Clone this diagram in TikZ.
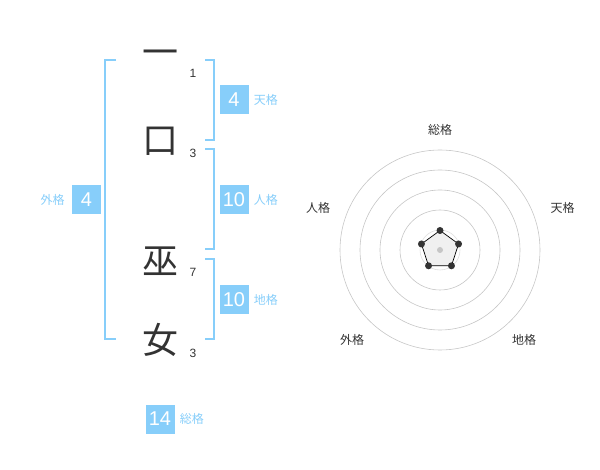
\documentclass[tikz,border=0pt]{standalone}
\usepackage{fontspec}
\setmainfont{Liberation Sans}
\newfontfamily\jpfont{Noto Sans CJK JP}
\usetikzlibrary{positioning}
\definecolor{seiblue}{RGB}{135,206,250}
\definecolor{inkgray}{RGB}{51,51,51}

\begin{document}
\begin{tikzpicture}[x=1pt, y=-1pt,
      node distance = 5pt,
      kanji/.style   = {font=\jpfont\fontsize{36}{36}\selectfont, text=inkgray, inner sep=0pt},
      strokes/.style = {font=\fontsize{12}{12}\selectfont, text=inkgray, inner sep=0pt},
      numbox/.style  = {fill=seiblue, text=white, minimum size=29pt, inner sep=0pt,
                        font=\fontsize{20}{20}\selectfont},
      kaku/.style    = {font=\jpfont\fontsize{12}{12}\selectfont, text=seiblue, inner sep=0pt},
      brk/.style     = {draw=seiblue, line width=2pt},
      ring/.style    = {draw=gray!45, line width=0.6pt},
      axis/.style    = {font=\jpfont\fontsize{12}{12}\selectfont, text=inkgray, inner sep=0pt},
      dot/.style     = {circle, fill=inkgray, inner sep=0pt, minimum size=7pt}]
    \useasboundingbox (0,0) rectangle (600,470);
    % name: characters and stroke counts
    \node[kanji] (c1) at (160,58)  {一};
    \node[kanji] (c2) at (160,141) {口};
    \node[kanji] (c3) at (160,261) {巫};
    \node[kanji] (c4) at (160,340) {女};
    \node[strokes] (s1) at (193,73)  {1};
    \node[strokes] (s2) at (193,153) {3};
    \node[strokes] (s3) at (193,272) {7};
    \node[strokes] (s4) at (193,353) {3};
    % brackets
    \draw[brk] (116,60) -- (105,60) -- (105,339) -- (116,339);
    \draw[brk] (205,60) -- (214,60) -- (214,140) -- (205,140);
    \draw[brk] (205,149) -- (214,149) -- (214,249) -- (205,249);
    \draw[brk] (205,259) -- (214,259) -- (214,339) -- (205,339);
    % scores
    \node[numbox] (ten)  at (234,100) {4};
    \node[numbox] (jin)  at (234,200) {10};
    \node[numbox] (chi)  at (234,300) {10};
    \node[numbox] (gai)  at (86.5,200) {4};
    \node[numbox] (sou)  at (160,419) {14};
    \node[kaku, right=of ten] (tenl) {天格};
    \node[kaku, right=of jin] (jinl) {人格};
    \node[kaku, right=of chi] (chil) {地格};
    \node[kaku, left=7pt of gai] (gail) {外格};
    \node[kaku, right=of sou] (soul) {総格};
    % radar chart
    \begin{scope}[shift={(440,250)}, y=1pt]
      \draw[gray!25, line width=0.6pt] (0,0) circle (20);
      \foreach \r in {40,60,80,100}
        \draw[ring] (0,0) circle (\r);
      \node[axis] (a1) at (0,120)    {総格};
      \node[axis] (a2) at (122.5,42) {天格};
      \node[axis] (a3) at (84,-90)   {地格};
      \node[axis] (a4) at (-88,-90)  {外格};
      \node[axis] (a5) at (-122,42)  {人格};
      \draw[fill=gray!12, line width=0.7pt] (90:19.5) -- (18:19.5) -- (-54:19.5)
        -- (-126:19.5) -- (162:19.5) -- cycle;
      \fill[gray!45] (0,0) circle (3);
      \foreach \a/\n in {90/p1, 18/p2, -54/p3, -126/p4, 162/p5}
        \node[dot] (\n) at (\a:19.5) {};
    \end{scope}
  \end{tikzpicture}
\end{document}
